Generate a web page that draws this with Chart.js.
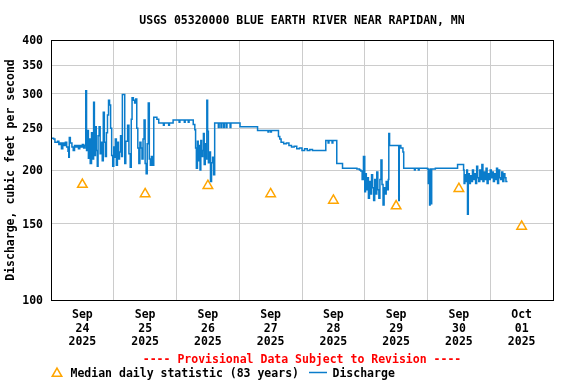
<!DOCTYPE html>
<html>
<head>
<meta charset="utf-8">
<script src="https://cdn.jsdelivr.net/npm/chart.js@4.4.1/dist/chart.umd.min.js"></script>
<style>
html,body{margin:0;padding:0;background:#ffffff;}
#wrap{width:576px;height:384px;position:relative;}
</style>
</head>
<body>
<div id="wrap"><canvas id="c" width="576" height="384"></canvas></div>
<script>
// ---- text ----
const titleText = 'USGS 05320000 BLUE EARTH RIVER NEAR RAPIDAN, MN';
const yAxisTitle = 'Discharge, cubic feet per second';
const provisionalText = '---- Provisional Data Subject to Revision ----';
const medianLabel = 'Median daily statistic (83 years)';
const flowLabel = 'Discharge';

// ---- axis ticks ----
const yTickValues = [100, 150, 200, 250, 300, 350, 400];
const dayMonths = ['Sep', 'Sep', 'Sep', 'Sep', 'Sep', 'Sep', 'Sep', 'Oct'];
const dayNumbers = ['24', '25', '26', '27', '28', '29', '30', '01'];
const dayYears = ['2025', '2025', '2025', '2025', '2025', '2025', '2025', '2025'];

// ---- median daily statistic (hours since Sep 24 00:00, cfs) ----
const medianHours = [12, 36, 60, 84, 108, 132, 156, 180];
const medianCfs = [185, 176, 184, 176, 170, 165, 181, 148];

// ---- discharge (hours since Sep 24 00:00, cfs) ----
const flowHours = [
  0, 1, 1.5, 2.5, 3, 3.5, 4, 4.5, 5, 5.5, 6, 6.5, 6.8, 7, 7.4, 8, 8.5, 9, 9.5, 10,
  10.5, 11, 11.5, 12, 12.5, 13, 13.3, 13.6, 14, 14.3, 14.7, 15, 15.5, 16, 16.3, 16.6, 17, 17.3, 17.7, 18,
  18.4, 18.8, 19.2, 19.6, 20, 20.4, 20.8, 21.2, 21.6, 22, 22.4, 22.8, 23.2, 23.6, 24, 24.3, 24.6, 25, 25.4, 25.8,
  26.2, 26.6, 27, 27.3, 28.2, 28.6, 29.3, 29.8, 30.3, 30.7, 31, 31.5, 32, 32.4, 32.8, 33.2, 33.6, 34, 34.4, 34.8,
  35.2, 35.6, 36, 36.4, 36.8, 37.2, 37.6, 38, 38.4, 38.8, 39.3, 40.5, 41.2, 43, 43.3, 45, 45.3, 46.7, 49, 49.3,
  51, 51.3, 52.5, 52.8, 54.4, 55, 55.3, 55.6, 56, 56.3, 56.6, 57, 57.3, 57.6, 58, 58.3, 58.6, 59, 59.3, 59.6,
  59.9, 60.2, 60.6, 61, 61.4, 61.8, 62.2, 62.6, 64, 64.3, 65, 65.3, 66, 66.3, 67, 67.3, 68.5, 68.8, 72.3, 79,
  83, 83.3, 84, 84.3, 87, 87.5, 88, 89, 90, 91, 92, 93, 94, 95, 96, 97, 98, 99, 100, 105.1,
  106, 106.3, 107.5, 107.8, 109.3, 111.5, 117, 118, 118.5, 119, 119.5, 120, 120.3, 120.6, 121, 121.4, 121.8, 122.2, 122.6, 123,
  123.4, 123.8, 124.2, 124.6, 125, 125.4, 125.8, 126.2, 126.6, 127, 127.4, 127.8, 128.2, 128.6, 129, 129.2, 129.5, 133, 133.2, 133.8,
  134.6, 134.9, 139, 139.3, 140.5, 140.8, 144, 144.3, 144.6, 144.8, 145, 145.3, 145.6, 147, 155.5, 157.8, 158, 158.3, 158.6, 159,
  159.3, 159.6, 160, 160.4, 160.8, 161.2, 161.6, 162, 162.4, 162.8, 163.2, 163.6, 164, 164.4, 164.8, 165.2, 165.6, 166, 166.4, 166.8,
  167.2, 167.6, 168, 168.4, 168.8, 169.2, 169.6, 170, 170.4, 170.8, 171.2, 171.6, 172, 172.4, 172.8, 173.2, 173.6, 174, 174.6
];
const flowCfs = [
  237, 236, 232, 233, 229, 231, 224, 231, 228, 232, 226, 221, 214, 238, 231, 226, 222, 228, 226, 228,
  224, 228, 226, 229, 225, 228, 305, 222, 247, 213, 236, 207, 244, 212, 287, 216, 252, 222, 204, 240,
  252, 218, 232, 210, 272, 232, 215, 244, 268, 290, 283, 250, 216, 204, 226, 214, 236, 205, 232, 212,
  220, 240, 215, 299, 207, 233, 254, 218, 203, 262, 294, 290, 286, 292, 250, 225, 207, 232, 225, 212,
  236, 261, 207, 196, 230, 286, 212, 205, 215, 205, 265, 262, 257, 254, 257, 254, 257, 261, 258, 261,
  258, 261, 258, 261, 255, 248, 225, 202, 233, 210, 228, 200, 234, 215, 222, 243, 206, 230, 212, 290,
  246, 208, 220, 188, 208, 214, 195, 257, 251, 257, 251, 257, 251, 257, 251, 257, 251, 257, 252, 247,
  245, 247, 245, 247, 239, 236, 232, 230, 231, 228, 226, 227, 224, 225, 222, 224, 222, 223, 222, 234,
  231, 234, 231, 234, 207, 202, 201, 200, 199, 190, 215, 178, 196, 180, 192, 172, 188, 176, 195, 182,
  170, 190, 176, 198, 180, 172, 190, 211, 185, 166, 182, 176, 188, 180, 190, 243, 228, 170, 228, 225,
  220, 202, 200, 202, 200, 202, 201, 186, 200, 166, 201, 167, 201, 202, 206, 200, 186, 195, 188, 200,
  158, 196, 186, 194, 188, 200, 190, 196, 186, 204, 192, 188, 200, 190, 206, 188, 198, 190, 202, 186,
  196, 190, 200, 192, 198, 188, 196, 190, 202, 186, 200, 192, 190, 198, 188, 196, 192, 188, 188
];

// ---- styles ----
const FONT_FAMILY = "'DejaVu Sans Mono', 'Liberation Mono', monospace";
const FLOW_COLOR = '#0a7ccb';
const MEDIAN_COLOR = '#ffa500';
const GRID_COLOR = '#cccccc';

Chart.defaults.font.family = FONT_FAMILY;
Chart.defaults.font.size = 11.5;
Chart.defaults.font.weight = 'bold';
Chart.defaults.color = '#000000';

const flowData = flowHours.map((h, i) => ({ x: h, y: flowCfs[i] }));
const medianData = medianHours.map((h, i) => ({ x: h, y: medianCfs[i] }));

// x ticks: midnight (grid lines) and noon (labels) for each day, plus the final midnight
function buildXTicks() {
  const t = [];
  for (let i = 0; i < dayNumbers.length; i++) {
    t.push({ value: i * 24 });
    t.push({ value: i * 24 + 12 });
  }
  t.push({ value: dayNumbers.length * 24 });
  return t;
}

const framePlugin = {
  id: 'frameAndNotes',
  afterDraw(chart) {
    const ctx = chart.ctx;
    const a = chart.chartArea;
    ctx.save();
    // plot frame
    ctx.strokeStyle = '#000000';
    ctx.lineWidth = 1;
    const L = Math.round(a.left) + 0.5, T = Math.round(a.top) + 0.5;
    const R = Math.round(a.right) + 0.5, B = Math.round(a.bottom) + 0.5;
    ctx.strokeRect(L, T, R - L, B - T);

    ctx.font = 'bold 11.5px ' + FONT_FAMILY;
    ctx.textBaseline = 'middle';
    // provisional note
    ctx.fillStyle = '#ff0000';
    ctx.textAlign = 'center';
    ctx.fillText(provisionalText, (a.left + a.right) / 2, 360.5);

    // legend
    const ly = 374;
    const helpers = Chart.helpers;
    if (helpers && helpers.drawPoint) {
      ctx.strokeStyle = MEDIAN_COLOR;
      ctx.fillStyle = 'rgba(0,0,0,0)';
      ctx.lineWidth = 1.5;
      helpers.drawPoint(ctx, { pointStyle: 'triangle', radius: 5.5, rotation: 0, borderWidth: 1.5 }, 57, ly - 0.5);
    }
    ctx.fillStyle = '#000000';
    ctx.textAlign = 'left';
    ctx.fillText(medianLabel, 70.5, ly);
    ctx.strokeStyle = FLOW_COLOR;
    ctx.lineWidth = 1.5;
    ctx.beginPath();
    ctx.moveTo(309, ly - 1.5);
    ctx.lineTo(327, ly - 1.5);
    ctx.stroke();
    ctx.fillText(flowLabel, 332.5, ly);
    ctx.restore();
  }
};

new Chart(document.getElementById('c'), {
  type: 'line',
  data: {
    datasets: [
      {
        label: flowLabel,
        data: flowData,
        borderColor: FLOW_COLOR,
        backgroundColor: FLOW_COLOR,
        borderWidth: 1.5,
        pointRadius: 0,
        stepped: true,
        fill: false,
        tension: 0
      },
      {
        label: medianLabel,
        data: medianData,
        showLine: false,
        pointStyle: 'triangle',
        pointRadius: 5.5,
        pointBorderColor: MEDIAN_COLOR,
        pointBackgroundColor: 'rgba(0,0,0,0)',
        pointBorderWidth: 1.5
      }
    ]
  },
  options: {
    responsive: false,
    animation: false,
    devicePixelRatio: 1,
    events: [],
    layout: { padding: { left: 0, right: 23, top: 0, bottom: 37.5 } },
    plugins: {
      legend: { display: false },
      tooltip: { enabled: false },
      title: {
        display: true,
        text: titleText,
        fullSize: false,
        color: '#000000',
        font: { family: FONT_FAMILY, size: 11.5, weight: 'bold', lineHeight: 1.2 },
        padding: { top: 14.2, bottom: 12 }
      }
    },
    scales: {
      x: {
        type: 'linear',
        min: 0,
        max: dayNumbers.length * 24,
        afterBuildTicks: (axis) => { axis.ticks = buildXTicks(); },
        afterFit: (axis) => { axis.height = 46.5; },
        grid: {
          color: (c) => (c.tick && c.tick.value % 24 === 0) ? GRID_COLOR : 'rgba(0,0,0,0)',
          lineWidth: 1,
          drawTicks: false
        },
        border: { display: false },
        ticks: {
          autoSkip: false,
          maxRotation: 0,
          minRotation: 0,
          padding: 8.8,
          color: '#000000',
          font: { family: FONT_FAMILY, size: 11.5, weight: 'bold', lineHeight: '13.2px' },
          callback: (v) => {
            const i = (v - 12) / 24;
            if (Number.isInteger(i) && i >= 0 && i < dayNumbers.length) {
              return [dayMonths[i], dayNumbers[i], dayYears[i]];
            }
            return '';
          }
        }
      },
      y: {
        type: 'logarithmic',
        min: yTickValues[0],
        max: yTickValues[yTickValues.length - 1],
        afterBuildTicks: (axis) => { axis.ticks = yTickValues.map(v => ({ value: v })); },
        afterFit: (axis) => { axis.width = 51; },
        grid: { color: GRID_COLOR, lineWidth: 1, drawTicks: false },
        border: { display: false },
        ticks: {
          autoSkip: false,
          padding: 8,
          labelOffset: 1.2,
          color: '#000000',
          font: { family: FONT_FAMILY, size: 11.5, weight: 'bold' },
          callback: (v) => String(v)
        },
        title: {
          display: true,
          text: yAxisTitle,
          color: '#000000',
          font: { family: FONT_FAMILY, size: 11.5, weight: 'bold', lineHeight: 1.2 },
          padding: { top: 4.5, bottom: 0 }
        }
      }
    }
  },
  plugins: [framePlugin]
});
</script>
</body>
</html>
